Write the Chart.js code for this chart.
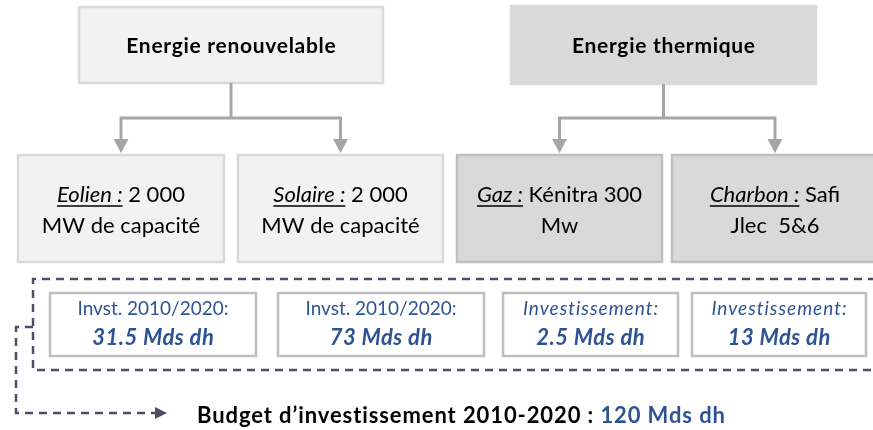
<!DOCTYPE html>
<html lang="fr">
<head>
<meta charset="utf-8">
<script src="https://cdn.jsdelivr.net/npm/chart.js@4.4.1/dist/chart.umd.min.js"></script>
<style>
  html, body { margin: 0; padding: 0; background: #fff; }
  #wrap { width: 873px; height: 430px; position: relative; }
</style>
</head>
<body>
<div id="wrap"><canvas id="schema"></canvas></div>
<script>
// Données du schéma
const groupes = ['Energie renouvelable', 'Energie thermique'];
const sources = ['Eolien :', 'Solaire :', 'Gaz :', 'Charbon :'];
const sourceGroupe = [0, 0, 1, 1];
const capaciteLigne1 = ['2 000', '2 000', 'Kénitra 300', 'Safi'];
const capaciteLigne2 = ['MW de capacité', 'MW de capacité', 'Mw', 'Jlec  5&6'];
const investLabels = ['Invst. 2010/2020:', 'Invst. 2010/2020:', 'Investissement:', 'Investissement:'];
const investValeurs = [31.5, 73, 2.5, 13];
const budgetLabel = 'Budget d’investissement 2010-2020 : ';
const budgetTotal = 120;
const unite = 'Mds dh';

// Mise en page (en unités d'axe = pixels de la maquette)
const topBoxes = [
    { x0: 79, x1: 383, y0: 7, y1: 83, fill: '#f2f2f2', border: '#d9d9d9' },
    { x0: 511, x1: 816, y0: 6, y1: 84, fill: '#d9d9d9', border: '#d9d9d9' }
];
const midBoxes = [
    { x0: 18, x1: 224, fill: '#f2f2f2', border: '#d9d9d9' },
    { x0: 238, x1: 443, fill: '#f2f2f2', border: '#d9d9d9' },
    { x0: 457, x1: 662, fill: '#d9d9d9', border: '#bfbfbf' },
    { x0: 672, x1: 878, fill: '#d9d9d9', border: '#bfbfbf' }
];
const midY = [155, 262];
const invBoxes = [
    { x0: 50, x1: 256 },
    { x0: 278, x1: 484 },
    { x0: 503, x1: 678 },
    { x0: 692, x1: 866 }
];
const invY = [293, 356];
const branchY = 118;
const dashBox = { x0: 33, x1: 890, y0: 279, y1: 370 };
const budgetPath = [[33, 327], [16, 327], [16, 413], [157, 413]];

const BLEU = '#2e5395';
const GRIS = '#a6a6a6';
const TIRET = '#4b4f63';
const FONT = 'Lato, "Open Sans", sans-serif';

function fmt(v) {
    return String(v);
}

const schemaPlugin = {
    id: 'schema',
    afterDraw(chart) {
        const ctx = chart.ctx;
        const sx = chart.scales.x, sy = chart.scales.y;
        const X = v => sx.getPixelForValue(v);
        const Y = v => sy.getPixelForValue(v);

        function box(x0, y0, x1, y1, fill, border, lw) {
            ctx.save();
            ctx.fillStyle = fill;
            ctx.fillRect(X(x0), Y(y0), X(x1) - X(x0), Y(y1) - Y(y0));
            ctx.strokeStyle = border;
            ctx.lineWidth = lw;
            ctx.strokeRect(X(x0), Y(y0), X(x1) - X(x0), Y(y1) - Y(y0));
            ctx.restore();
        }

        // texte centré, avec un léger espacement pour imiter Calibri
        function texte(str, cx, cy, font, color, ls) {
            ctx.save();
            ctx.font = font;
            ctx.letterSpacing = (ls || 0) + 'px';
            ctx.fillStyle = color;
            ctx.textAlign = 'left';
            ctx.textBaseline = 'middle';
            const w = ctx.measureText(str).width - (ls || 0);
            ctx.fillText(str, X(cx) - w / 2, Y(cy));
            ctx.restore();
        }

        function fleche(x) {
            ctx.beginPath();
            ctx.moveTo(X(x) - 7.5, Y(139));
            ctx.lineTo(X(x) + 7.5, Y(139));
            ctx.lineTo(X(x), Y(153));
            ctx.closePath();
            ctx.fill();
        }

        ctx.save();
        ctx.fillStyle = '#fff';
        ctx.fillRect(0, 0, chart.width, chart.height);
        ctx.restore();

        // boîtes du haut + branches
        groupes.forEach((g, i) => {
            const b = topBoxes[i];
            box(b.x0, b.y0, b.x1, b.y1, b.fill, b.border, 2.5);
            texte(g, (b.x0 + b.x1) / 2, (b.y0 + b.y1) / 2 + 1, 'bold 21px ' + FONT, '#000', 0.7);

            const enfants = [];
            sourceGroupe.forEach((gi, k) => { if (gi === i) enfants.push(k); });
            const cxs = enfants.map(k => (midBoxes[k].x0 + midBoxes[k].x1) / 2);
            const cx = (b.x0 + b.x1) / 2;
            ctx.save();
            ctx.strokeStyle = GRIS;
            ctx.fillStyle = GRIS;
            ctx.lineWidth = 3;
            ctx.beginPath();
            ctx.moveTo(X(cx), Y(b.y1));
            ctx.lineTo(X(cx), Y(branchY));
            ctx.moveTo(X(cxs[0]), Y(branchY));
            ctx.lineTo(X(cxs[cxs.length - 1]), Y(branchY));
            cxs.forEach(x => {
                ctx.moveTo(X(x), Y(branchY - 1.5));
                ctx.lineTo(X(x), Y(140));
            });
            ctx.stroke();
            cxs.forEach(x => fleche(x));
            ctx.restore();
        });

        // boîtes des sources
        sources.forEach((s, k) => {
            const b = midBoxes[k];
            box(b.x0, midY[0], b.x1, midY[1], b.fill, b.border, 2.5);
            const cx = (b.x0 + b.x1) / 2;
            ctx.save();
            ctx.textBaseline = 'middle';
            ctx.textAlign = 'left';
            const fIt = 'italic 22px ' + FONT;
            const fRg = '22px ' + FONT;
            ctx.font = fIt;
            const wS = ctx.measureText(s).width;
            ctx.font = fRg;
            const wSp = ctx.measureText(' ').width;
            const wV = ctx.measureText(capaciteLigne1[k]).width;
            const start = X(cx) - (wS + wSp + wV) / 2;
            const y1 = Y(195);
            ctx.fillStyle = '#000';
            ctx.font = fIt;
            ctx.fillText(s, start, y1);
            ctx.font = fRg;
            ctx.fillText(capaciteLigne1[k], start + wS + wSp, y1);
            ctx.strokeStyle = '#000';
            ctx.lineWidth = 1.4;
            ctx.beginPath();
            ctx.moveTo(start, y1 + 11);
            ctx.lineTo(start + wS, y1 + 11);
            ctx.stroke();
            ctx.restore();
            texte(capaciteLigne2[k], cx, 226, '22px ' + FONT, '#000', 0);
        });

        // cadre en pointillés
        ctx.save();
        ctx.strokeStyle = TIRET;
        ctx.lineWidth = 2.5;
        ctx.setLineDash([8, 6]);
        ctx.beginPath();
        ctx.moveTo(X(dashBox.x1), Y(dashBox.y0));
        ctx.lineTo(X(dashBox.x0), Y(dashBox.y0));
        ctx.lineTo(X(dashBox.x0), Y(dashBox.y1));
        ctx.lineTo(X(dashBox.x1), Y(dashBox.y1));
        ctx.stroke();
        ctx.beginPath();
        budgetPath.forEach((p, i) => {
            if (i === 0) ctx.moveTo(X(p[0]), Y(p[1]));
            else ctx.lineTo(X(p[0]), Y(p[1]));
        });
        ctx.stroke();
        ctx.setLineDash([]);
        ctx.fillStyle = TIRET;
        const last = budgetPath[budgetPath.length - 1];
        ctx.beginPath();
        ctx.moveTo(X(last[0]) - 2, Y(last[1]) - 6);
        ctx.lineTo(X(last[0]) + 10, Y(last[1]));
        ctx.lineTo(X(last[0]) - 2, Y(last[1]) + 6);
        ctx.closePath();
        ctx.fill();
        ctx.restore();

        // boîtes d'investissement
        investValeurs.forEach((v, k) => {
            const b = invBoxes[k];
            box(b.x0, invY[0], b.x1, invY[1], '#fff', '#bfbfbf', 2.5);
            const cx = (b.x0 + b.x1) / 2;
            if (k < 2) texte(investLabels[k], cx, 309, '19px ' + FONT, BLEU, 0);
            else texte(investLabels[k], cx, 309, 'italic 19px ' + FONT, BLEU, 1);
            texte(fmt(v) + ' ' + unite, cx, 338, 'italic bold 22px ' + FONT, BLEU, 0.5);
        });

        // budget total
        ctx.save();
        ctx.textBaseline = 'middle';
        ctx.textAlign = 'left';
        ctx.font = 'bold 22px ' + FONT;
        ctx.letterSpacing = '0.9px';
        ctx.fillStyle = '#000';
        const bx = X(197), by = Y(416);
        ctx.fillText(budgetLabel, bx, by);
        const w = ctx.measureText(budgetLabel).width;
        ctx.fillStyle = BLEU;
        ctx.fillText(fmt(budgetTotal) + ' ' + unite, bx + w, by);
        ctx.restore();
    }
};

const ctx = document.getElementById('schema').getContext('2d');
const schema = new Chart(ctx, {
    type: 'scatter',
    data: { datasets: [{ data: [], showLine: false }] },
    options: {
        responsive: true,
        maintainAspectRatio: false,
        animation: false,
        layout: { padding: 0 },
        plugins: {
            legend: { display: false },
            tooltip: { enabled: false }
        },
        scales: {
            x: { type: 'linear', min: 0, max: 873, display: false },
            y: { type: 'linear', min: 0, max: 430, reverse: true, display: false }
        }
    },
    plugins: [schemaPlugin]
});
</script>
</body>
</html>
